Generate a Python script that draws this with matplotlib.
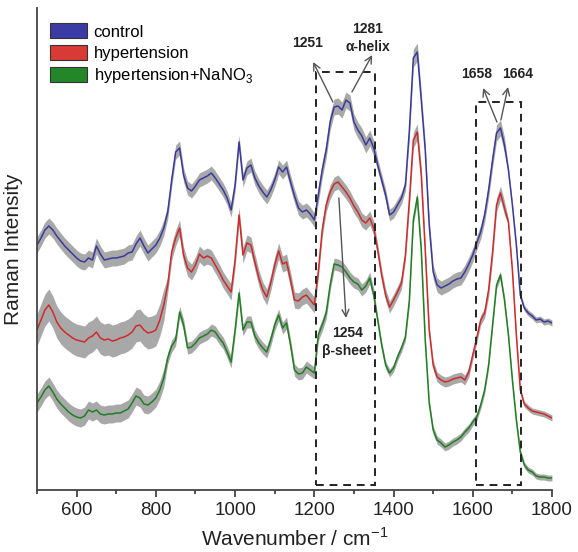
import matplotlib
matplotlib.use("Agg")
import matplotlib.pyplot as plt
from matplotlib.patches import Patch, Rectangle
import numpy as np

plt.rcParams['font.family'] = ['Liberation Sans', 'DejaVu Sans']

# wavenumber grid, cm-1
wavenumber = list(range(500, 1801, 10))

# mean spectra (arbitrary units, already offset for stacking)
control = [
    245, 252, 260, 264, 260, 254, 249, 244, 240, 236,
    232, 229, 228, 232, 230, 244, 236, 230, 231, 232,
    232, 233, 234, 237, 238, 246, 252, 244, 237, 241,
    245, 252, 262, 278, 310, 338, 342, 315, 302, 299,
    304, 310, 312, 314, 317, 312, 306, 300, 292, 280,
    305, 348, 310, 322, 325, 312, 304, 298, 293, 300,
    310, 323, 318, 323, 308, 294, 282, 278, 280, 276,
    270, 295, 320, 340, 368, 383, 384, 380, 390, 387,
    368, 360, 354, 345, 352, 342, 325, 310, 295, 275,
    278, 285, 292, 305, 360, 432, 438, 390, 340, 265,
    218, 205, 202, 204, 206, 209, 211, 212, 218, 226,
    235, 247, 258, 275, 300, 330, 357, 362, 345, 320,
    285, 245, 195, 182, 177, 174, 170, 171, 168, 169,
    167,
]
hypertension = [
    160, 170, 180, 185, 178, 168, 162, 158, 155, 152,
    150, 149, 148, 152, 154, 158, 152, 150, 151, 149,
    150, 152, 153, 155, 158, 164, 165, 160, 157, 158,
    160, 170, 185, 205, 238, 252, 262, 235, 222, 218,
    225, 236, 232, 234, 232, 225, 218, 210, 204, 198,
    230, 275, 235, 247, 245, 228, 212, 200, 193, 207,
    225, 239, 226, 228, 210, 190, 189, 193, 195, 190,
    185, 218, 260, 285, 298, 306, 308, 303, 298, 292,
    284, 278, 270, 267, 272, 262, 240, 215, 195, 183,
    190, 198, 207, 235, 290, 350, 358, 315, 240, 160,
    125, 113, 110, 108, 109, 111, 112, 113, 110, 118,
    135, 152, 170, 177, 200, 238, 285, 297, 282, 268,
    220, 155, 100, 86, 82, 79, 78, 77, 76, 74,
    72,
]
nano3 = [
    87, 93, 100, 104, 98, 91, 86, 82, 78, 75,
    73, 72, 74, 80, 78, 80, 76, 75, 76, 76,
    77, 77, 79, 81, 87, 94, 92, 86, 85, 88,
    92, 100, 112, 132, 144, 150, 178, 165, 142, 143,
    147, 152, 154, 156, 160, 158, 152, 147, 138, 128,
    160, 197, 160, 168, 168, 154, 147, 142, 138, 150,
    165, 175, 162, 167, 145, 120, 116, 117, 123, 120,
    117, 155, 165, 177, 205, 226, 225, 223, 218, 212,
    208, 206, 200, 204, 212, 195, 170, 145, 125, 117,
    122, 133, 142, 153, 190, 270, 293, 240, 150, 87,
    60, 50, 47, 43, 45, 48, 50, 53, 58, 62,
    68, 73, 85, 100, 125, 165, 205, 215, 190, 155,
    110, 70, 38, 25, 20, 18, 14, 13, 13, 12,
    12,
]

# standard deviation half-widths, read per spectral region
control_sd = [8] * 33 + [7] * 38 + [8] * 15 + [6] * 8 + [9] * 4 + [7] * 16 + [8] * 5 + [3] * 12
hypertension_sd = [16] * 33 + [8] * 38 + [7] * 15 + [6] * 8 + [8] * 4 + [5] * 16 + [7] * 5 + [3] * 12
nano3_sd = [9] * 33 + [6] * 38 + [6] * 15 + [4] * 8 + [5] * 4 + [4] * 16 + [4] * 5 + [3] * 12

labels = ['control', 'hypertension', 'hypertension+NaNO$_{\\mathregular{3}}$']
colors = ['#3a3a9c', '#d02a2a', '#1f7f22']
legend_colors = ['#3b3ba6', '#d93a35', '#23872a']

# marked regions (amide III and amide I)
boxes = [(1205, 1352, 418), (1608, 1722, 388)]

# band assignments: text, text position, arrow tail, arrow head
notes = [
    ('1251', (1184, 447), (1247, 388), (1197, 428)),
    ('1281\nα-helix', (1335, 452), (1295, 398), (1346, 435)),
    ('1658', (1611, 416), (1661, 368), (1626, 402)),
    ('1664', (1714, 416), (1671, 370), (1689, 403)),
    ('1254\nβ-sheet', (1283, 148), (1262, 292), (1280, 172)),
]

fig = plt.figure(figsize=(5.78, 5.52), dpi=100)
ax = fig.add_axes([0.064, 0.1123, 0.891, 0.8732])

wn = np.array(wavenumber)
series = [control, hypertension, nano3]
sds = [control_sd, hypertension_sd, nano3_sd]
for y, sd in zip(series, sds):
    y = np.array(y)
    sd = np.array(sd)
    ax.fill_between(wn, y - sd, y + sd, color='#a8a8a8', lw=0, zorder=1)
for y, c in zip(series, colors):
    ax.plot(wn, y, color=c, lw=1.1, zorder=2)

for x0, x1, top in boxes:
    ax.add_patch(Rectangle((x0, 5), x1 - x0, top - 5, fill=False,
                           ls=(0, (4, 3)), lw=1.4, ec='#222222', zorder=3))

for text, pos, tail, head in notes:
    ax.annotate('', xy=head, xytext=tail,
                arrowprops=dict(arrowstyle='->, head_length=0.5, head_width=0.25',
                                color='#555555', lw=1.0, shrinkA=0, shrinkB=0),
                zorder=4)
    ax.text(pos[0], pos[1], text, ha='center', va='center', fontsize=10,
            fontweight='bold', color='#222222', linespacing=1.3, zorder=5)

ax.set_xlim(500, 1800)
ax.set_ylim(0, 482)
ax.set_xticks([600, 800, 1000, 1200, 1400, 1600, 1800])
ax.set_xticks([500, 700, 900, 1100, 1300, 1500, 1700], minor=True)
ax.set_yticks([])
ax.tick_params(axis='x', which='major', length=5, width=1.2, direction='out',
               labelsize=13.5, colors='#333333', labelcolor='#222222')
ax.tick_params(axis='x', which='minor', length=3, width=1.2, direction='out',
               colors='#333333')
for side in ['top', 'right']:
    ax.spines[side].set_visible(False)
for side in ['left', 'bottom']:
    ax.spines[side].set_color('#444444')
    ax.spines[side].set_linewidth(1.3)

ax.set_xlabel('Wavenumber / cm$^{\\mathregular{-1}}$', fontsize=15, color='#222222', labelpad=6)
ax.set_ylabel('Raman Intensity', fontsize=15, color='#222222', labelpad=10)

handles = [Patch(facecolor=c, edgecolor='#333333', lw=0.8) for c in legend_colors]
ax.legend(handles, labels, loc='upper left', bbox_to_anchor=(0.026, 0.968),
          frameon=False, fontsize=12, handlelength=2.2, handleheight=1.0,
          handletextpad=0.4, labelspacing=0.3, borderpad=0, borderaxespad=0)

fig.savefig('out.png', dpi=100)
